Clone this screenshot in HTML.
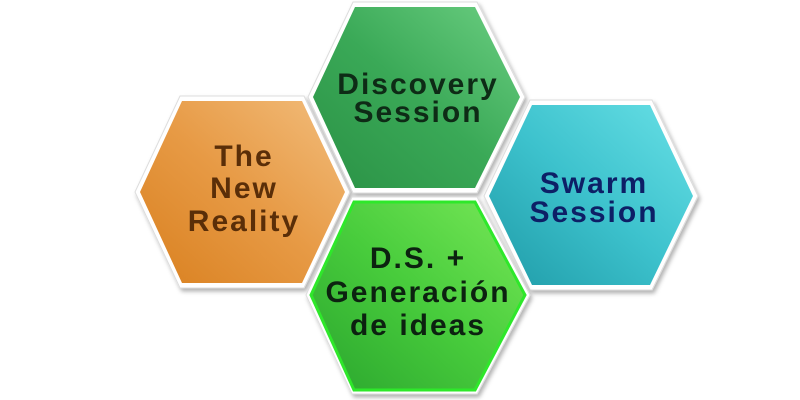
<!DOCTYPE html>
<html><head><meta charset="utf-8"><style>
html,body{margin:0;padding:0;background:#fff;width:800px;height:400px;overflow:hidden}
text{font-family:"Liberation Sans",sans-serif;font-size:30px;font-weight:bold;text-anchor:middle;letter-spacing:2px}
</style></head><body>
<svg width="800" height="400" viewBox="0 0 800 400" xmlns="http://www.w3.org/2000/svg">
<defs>
<linearGradient id="go" x1="0" y1="1" x2="1" y2="0"><stop offset="0" stop-color="#d9801f"/><stop offset="0.5" stop-color="#e79a45"/><stop offset="1" stop-color="#f2bd7c"/></linearGradient>
<linearGradient id="gg" x1="0" y1="1" x2="1" y2="0"><stop offset="0" stop-color="#2a9145"/><stop offset="0.5" stop-color="#3aa957"/><stop offset="1" stop-color="#6ccf82"/></linearGradient>
<linearGradient id="gc" x1="0" y1="1" x2="1" y2="0"><stop offset="0" stop-color="#1f9ba7"/><stop offset="0.5" stop-color="#3dc2cd"/><stop offset="1" stop-color="#68e0e6"/></linearGradient>
<linearGradient id="gl" x1="0" y1="1" x2="1" y2="0"><stop offset="0" stop-color="#2aa52e"/><stop offset="0.5" stop-color="#48cc3c"/><stop offset="1" stop-color="#78e858"/></linearGradient>
<filter id="sh" x="-10%" y="-10%" width="120%" height="120%"><feDropShadow dx="2" dy="3" stdDeviation="2" flood-color="#000" flood-opacity="0.3"/></filter>
</defs>
<polygon points="135,192 180,96 304,96 350,192 304,288 180,288" fill="#fff" stroke="#ddd" stroke-width="1" filter="url(#sh)"/>
<polygon points="140,192 182,101 302,101 345,192 302,283 182,283" fill="url(#go)"/>
<polygon points="308,97 353,2 477,2 525,97 477,193 353,193" fill="#fff" stroke="#ddd" stroke-width="1" filter="url(#sh)"/>
<polygon points="313,97 355,7 475,7 520,97 475,188 355,188" fill="url(#gg)"/>
<polygon points="484,196 530,100 652,100 698,196 652,290 530,290" fill="#fff" stroke="#ddd" stroke-width="1" filter="url(#sh)"/>
<polygon points="489,196 532,105 650,105 693,196 650,285 532,285" fill="url(#gc)"/>
<polygon points="306,295 352,197 477,197 530,295 477,394 352,394" fill="#fff" stroke="#ddd" stroke-width="1" filter="url(#sh)"/>
<polygon points="311,295 354,202 475,202 525,295 475,390 354,390" fill="url(#gl)" stroke="#2ee82a" stroke-width="3"/>
<g fill="#5a2e08"><text x="244" y="166">The</text><text x="244" y="198">New</text><text x="244" y="231">Reality</text></g>
<g fill="#0e2b16"><text x="418" y="94">Discovery</text><text x="418" y="122">Session</text></g>
<g fill="#0d1f66"><text x="594" y="193">Swarm</text><text x="594" y="222">Session</text></g>
<g fill="#0c2210"><text x="418" y="268">D.S. +</text><text x="418" y="302">Generación</text><text x="418" y="335">de ideas</text></g>
</svg>
</body></html>
